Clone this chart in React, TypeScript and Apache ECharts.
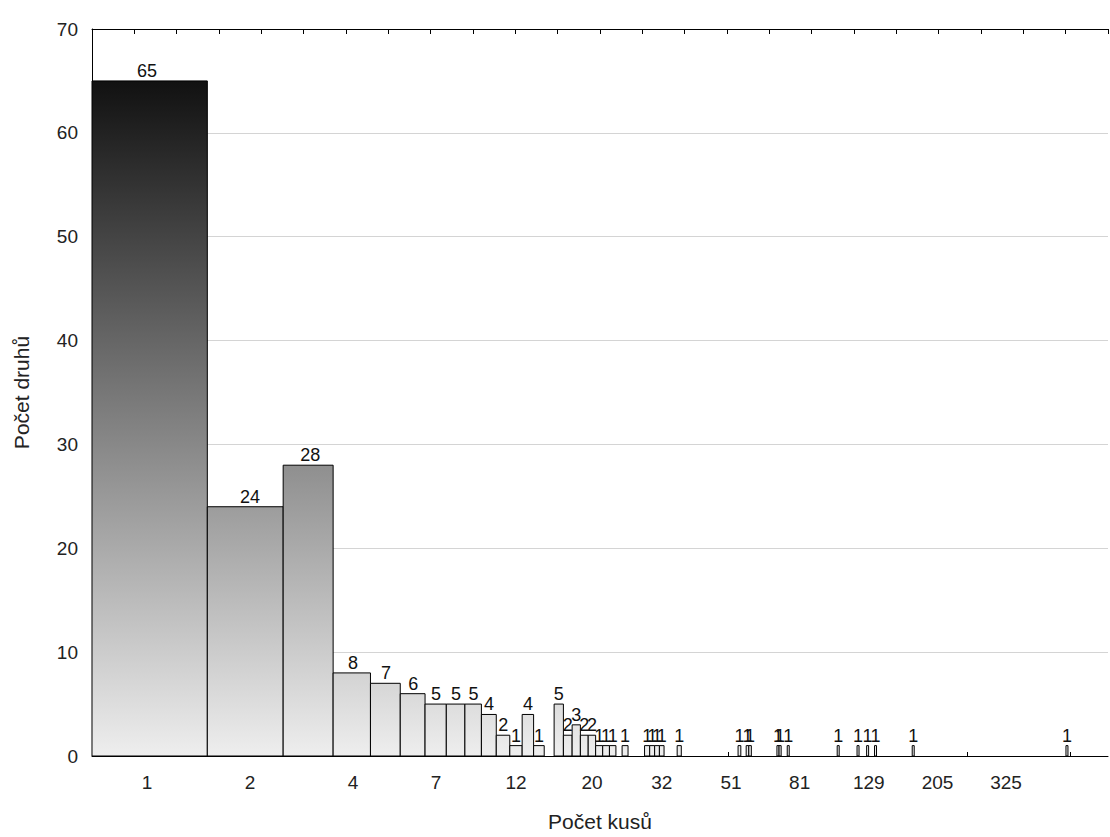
import React, { useEffect, useRef } from "react";
import * as echarts from "echarts";

// "Počet kusů" (number of specimens) values that occur, and how many species have that count
const counts = [1, 2, 3, 4, 5, 6, 7, 8, 9, 10, 11, 12, 13, 14, 16, 17, 18, 19, 20, 21, 22, 23, 25, 29, 30, 31, 32, 36, 54, 57, 58, 70, 71, 75, 105, 120, 128, 135, 174, 490];
const species = [65, 24, 28, 8, 7, 6, 5, 5, 5, 4, 2, 1, 4, 1, 5, 2, 3, 2, 2, 1, 1, 1, 1, 1, 1, 1, 1, 1, 1, 1, 1, 1, 1, 1, 1, 1, 1, 1, 1, 1];

const xTickLabels = [1, 2, 4, 7, 12, 20, 32, 51, 81, 129, 205, 325];
const xMinorTicks = [0.75, 5, 25, 50, 250, 500];
const xRange = [0.69, 646];
const yRange = [0, 70];
const yStep = 10;
const topTickCount = 24;
const gradientMax = 65;

export default function App() {
  const ref = useRef<HTMLDivElement>(null);
  useEffect(() => {
    if (!ref.current) return;
    const chart = echarts.init(ref.current, null, { renderer: "svg" });
    const L = Math.log10;
    const data = counts.map((c, i) => [L(c - 0.5), L(c + 0.5), species[i], L(c)]);
    const font = "'Liberation Sans', Arial, sans-serif";
    chart.setOption({
      animation: false,
      textStyle: { fontFamily: font },
      grid: { left: 92, right: 2, top: 29, bottom: 77 },
      xAxis: [
        {
          type: "value",
          position: "bottom",
          min: L(xRange[0]),
          max: L(xRange[1]),
          name: "Počet kusů",
          nameLocation: "middle",
          nameGap: 55,
          nameTextStyle: { fontSize: 21, color: "#222", fontFamily: font },
          axisLine: { show: true, onZero: false, lineStyle: { color: "#000", width: 1 } },
          axisTick: {
            show: true,
            inside: true,
            length: 4,
            customValues: xMinorTicks.map(L),
            lineStyle: { color: "#000" },
          },
          axisLabel: {
            customValues: xTickLabels.map(L),
            formatter: (v: number) => String(Math.round(Math.pow(10, v))),
            fontSize: 19,
            color: "#222",
            margin: 17,
            fontFamily: font,
          },
          splitLine: { show: false },
        },
        {
          type: "value",
          position: "top",
          min: 0,
          max: topTickCount,
          interval: 1,
          axisLine: { show: true, onZero: false, lineStyle: { color: "#000", width: 1 } },
          axisTick: { show: true, inside: true, length: 5, lineStyle: { color: "#000" } },
          axisLabel: { show: false },
          splitLine: { show: false },
        },
      ],
      yAxis: {
        type: "value",
        min: yRange[0],
        max: yRange[1],
        interval: yStep,
        name: "Počet druhů",
        nameLocation: "middle",
        nameGap: 60,
        nameRotate: 90,
        nameTextStyle: { fontSize: 21, color: "#222", fontFamily: font },
        axisLine: { show: true, onZero: false, lineStyle: { color: "#000", width: 1 } },
        axisTick: { show: false },
        axisLabel: { fontSize: 19, color: "#222", margin: 14, fontFamily: font },
        splitLine: { show: true, lineStyle: { color: "#d4d4d4", width: 1 } },
      },
      series: [
        {
          type: "custom",
          xAxisIndex: 0,
          yAxisIndex: 0,
          data,
          encode: { x: [0, 1, 3], y: 2 },
          renderItem: (params: any, api: any) => {
            const x0 = api.value(0);
            const x1 = api.value(1);
            const v = api.value(2);
            const xc = api.value(3);
            const pTop = api.coord([x0, v]);
            const pBot = api.coord([x1, 0]);
            const cs = params.coordSys;
            let left = Math.max(pTop[0], cs.x);
            let right = Math.min(pBot[0], cs.x + cs.width);
            if (right - left < 2) {
              const m = (left + right) / 2;
              left = m - 1;
              right = m + 1;
            }
            const top = pTop[1];
            const bottom = pBot[1];
            const gTop = api.coord([0, gradientMax])[1];
            const lbl = api.coord([xc, v]);
            return {
              type: "group",
              children: [
                {
                  type: "rect",
                  shape: { x: left, y: top, width: right - left, height: bottom - top },
                  style: {
                    fill: {
                      type: "linear",
                      x: 0,
                      y: gTop,
                      x2: 0,
                      y2: bottom,
                      global: true,
                      colorStops: [
                        { offset: 0, color: "#111111" },
                        { offset: 1, color: "#eeeeee" },
                      ],
                    },
                    stroke: "#000",
                    lineWidth: 1,
                  },
                },
                {
                  type: "text",
                  x: lbl[0],
                  y: top - 1,
                  style: {
                    text: String(v),
                    fill: "#111",
                    font: "18px 'Liberation Sans', Arial, sans-serif",
                    align: "center",
                    verticalAlign: "bottom",
                  },
                },
              ],
            };
          },
        },
      ],
    });
    return () => chart.dispose();
  }, []);
  return (
    <div
      ref={ref}
      style={{ position: "absolute", left: 0, top: 0, width: 1110, height: 837, background: "#fff" }}
    />
  );
}
